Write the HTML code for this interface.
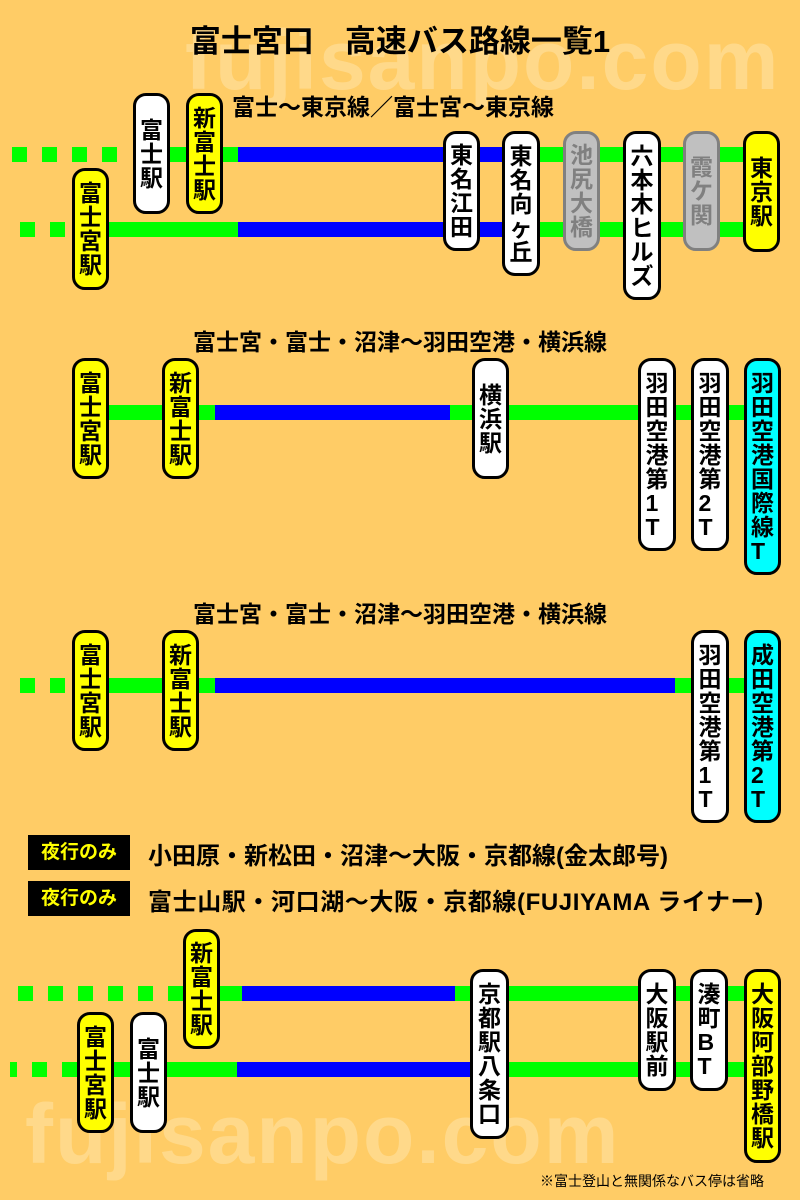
<!DOCTYPE html>
<html><head><meta charset="utf-8"><style>
body{margin:0;}
#c{position:relative;width:800px;height:1200px;background:#FFCC66;overflow:hidden;font-family:"Liberation Sans","Noto Sans CJK JP",sans-serif;}
.wm{position:absolute;font-family:"Liberation Sans",sans-serif;font-weight:bold;font-size:84px;color:#FFD98A;letter-spacing:2px;line-height:1;}
.g{position:absolute;background:#00FF00;height:15px;}
.b{position:absolute;background:#0000FF;height:15px;}
.s{position:absolute;box-sizing:border-box;border:3px solid #000;border-radius:13px;background:#fff;display:flex;flex-direction:column;justify-content:center;align-items:center;font-size:23px;line-height:24px;color:#000;font-weight:bold;}
.y{background:#FFFF00;}
.cy{background:#00FFFF;}
.gr{background:#C0C0C0;border-color:#808080;color:#808080;}
.t{position:absolute;font-weight:bold;color:#000;white-space:nowrap;}
.nk{position:absolute;left:28px;width:102px;height:35px;background:#000;color:#FFFF00;font-weight:bold;font-size:19px;line-height:35px;text-align:center;}
</style></head><body><div id="c">
<div class="wm" style="left:185px;top:18px;">fujisanpo.com</div>
<div class="wm" style="left:25px;top:1092px;">fujisanpo.com</div>

<div class="t" style="left:0;width:800px;text-align:center;top:16px;font-size:31px;">富士宮口　高速バス路線一覧1</div>
<div class="t" style="left:232px;top:88px;font-size:23px;">富士〜東京線／富士宮〜東京線</div>

<div class="g" style="left:12px;top:147px;width:15px"></div><div class="g" style="left:42px;top:147px;width:15px"></div><div class="g" style="left:72px;top:147px;width:15px"></div><div class="g" style="left:102px;top:147px;width:15px"></div>
<div class="g" style="left:168px;top:147px;width:72px"></div>
<div class="b" style="left:238px;top:147px;width:302px"></div>
<div class="g" style="left:540px;top:147px;width:210px"></div>
<div class="g" style="left:20px;top:222px;width:15px"></div><div class="g" style="left:50px;top:222px;width:15px"></div>
<div class="g" style="left:108px;top:222px;width:132px"></div>
<div class="b" style="left:238px;top:222px;width:302px"></div>
<div class="g" style="left:540px;top:222px;width:210px"></div>

<div class="s" style="left:133px;top:93px;width:37px;height:121px">富<br>士<br>駅</div>
<div class="s y" style="left:186px;top:93px;width:37px;height:121px">新<br>富<br>士<br>駅</div>
<div class="s y" style="left:72px;top:168px;width:37px;height:122px">富<br>士<br>宮<br>駅</div>
<div class="s" style="left:443px;top:131px;width:37px;height:120px">東<br>名<br>江<br>田</div>
<div class="s" style="left:502px;top:131px;width:38px;height:145px">東<br>名<br>向<br>ヶ<br>丘</div>
<div class="s gr" style="left:563px;top:131px;width:37px;height:120px">池<br>尻<br>大<br>橋</div>
<div class="s" style="left:623px;top:131px;width:38px;height:169px">六<br>本<br>木<br>ヒ<br>ル<br>ズ</div>
<div class="s gr" style="left:683px;top:131px;width:37px;height:120px">霞<br>ケ<br>関</div>
<div class="s y" style="left:743px;top:131px;width:37px;height:121px">東<br>京<br>駅</div>

<div class="t" style="left:0;width:800px;text-align:center;top:323px;font-size:23px;">富士宮・富士・沼津〜羽田空港・横浜線</div>
<div class="g" style="left:100px;top:405px;width:650px"></div>
<div class="b" style="left:215px;top:405px;width:235px"></div>
<div class="s y" style="left:72px;top:358px;width:37px;height:121px">富<br>士<br>宮<br>駅</div>
<div class="s y" style="left:162px;top:358px;width:37px;height:121px">新<br>富<br>士<br>駅</div>
<div class="s" style="left:472px;top:358px;width:37px;height:121px">横<br>浜<br>駅</div>
<div class="s" style="left:638px;top:358px;width:38px;height:193px">羽<br>田<br>空<br>港<br>第<br>1<br>T</div>
<div class="s" style="left:691px;top:358px;width:38px;height:193px">羽<br>田<br>空<br>港<br>第<br>2<br>T</div>
<div class="s cy" style="left:744px;top:358px;width:37px;height:217px">羽<br>田<br>空<br>港<br>国<br>際<br>線<br>T</div>

<div class="t" style="left:0;width:800px;text-align:center;top:595px;font-size:23px;">富士宮・富士・沼津〜羽田空港・横浜線</div>
<div class="g" style="left:20px;top:678px;width:15px"></div><div class="g" style="left:50px;top:678px;width:15px"></div>
<div class="g" style="left:100px;top:678px;width:650px"></div>
<div class="b" style="left:215px;top:678px;width:460px"></div>
<div class="s y" style="left:72px;top:630px;width:37px;height:121px">富<br>士<br>宮<br>駅</div>
<div class="s y" style="left:162px;top:630px;width:37px;height:121px">新<br>富<br>士<br>駅</div>
<div class="s" style="left:691px;top:630px;width:38px;height:193px">羽<br>田<br>空<br>港<br>第<br>1<br>T</div>
<div class="s cy" style="left:744px;top:630px;width:37px;height:193px">成<br>田<br>空<br>港<br>第<br>2<br>T</div>

<div class="nk" style="top:835px;">夜行のみ</div>
<div class="t" style="left:148px;top:836px;font-size:24px;">小田原・新松田・沼津〜大阪・京都線(金太郎号)</div>
<div class="nk" style="top:881px;">夜行のみ</div>
<div class="t" style="left:148px;top:882px;font-size:24px;letter-spacing:0.6px;">富士山駅・河口湖〜大阪・京都線(FUJIYAMA ライナー)</div>

<div class="g" style="left:18px;top:986px;width:15px"></div><div class="g" style="left:48px;top:986px;width:15px"></div><div class="g" style="left:78px;top:986px;width:15px"></div><div class="g" style="left:108px;top:986px;width:15px"></div><div class="g" style="left:138px;top:986px;width:15px"></div><div class="g" style="left:168px;top:986px;width:76px"></div>
<div class="b" style="left:242px;top:986px;width:214px"></div>
<div class="g" style="left:455px;top:986px;width:295px"></div>
<div class="g" style="left:10px;top:1062px;width:7px"></div><div class="g" style="left:32px;top:1062px;width:15px"></div>
<div class="g" style="left:62px;top:1062px;width:177px"></div>
<div class="b" style="left:237px;top:1062px;width:233px"></div>
<div class="g" style="left:470px;top:1062px;width:280px"></div>
<div class="s y" style="left:183px;top:929px;width:37px;height:120px">新<br>富<br>士<br>駅</div>
<div class="s y" style="left:77px;top:1012px;width:37px;height:121px">富<br>士<br>宮<br>駅</div>
<div class="s" style="left:130px;top:1012px;width:37px;height:121px">富<br>士<br>駅</div>
<div class="s" style="left:470px;top:969px;width:39px;height:170px">京<br>都<br>駅<br>八<br>条<br>口</div>
<div class="s" style="left:638px;top:969px;width:38px;height:122px">大<br>阪<br>駅<br>前</div>
<div class="s" style="left:690px;top:969px;width:38px;height:122px">湊<br>町<br>B<br>T</div>
<div class="s y" style="left:744px;top:969px;width:37px;height:194px">大<br>阪<br>阿<br>部<br>野<br>橋<br>駅</div>

<div class="t" style="left:540px;top:1171px;font-size:14px;font-weight:normal;">※富士登山と無関係なバス停は省略</div>
</div></body></html>
